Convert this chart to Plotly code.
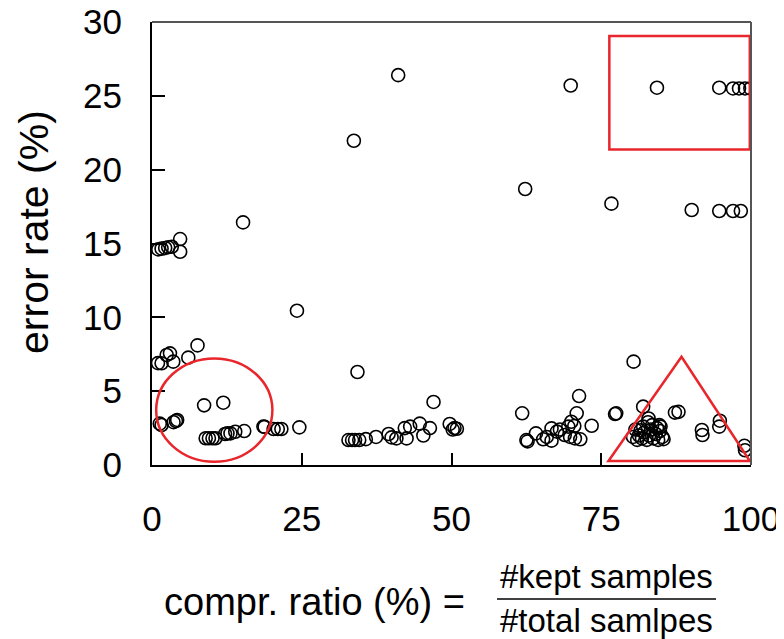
import plotly.graph_objects as go

# compression ratio (%) and error rate (%)
ratio = [
    41.1, 69.9, 84.3, 94.7, 97.0, 98.0, 99.0, 99.9,
    33.7, 62.3, 76.7, 90.1, 94.7, 97.0, 98.3,
    15.2,
    1.05, 1.6, 2.2, 2.7, 3.3, 4.7, 4.7,
    24.2,
    7.6, 1.0, 1.6, 2.45, 3.0, 3.55, 6.06,
    34.3, 8.7, 11.9, 47.0,
    1.3, 1.6, 3.6, 4.0, 4.2,
    8.96, 9.5, 10.1, 10.6,
    12.2, 12.6, 13.1, 13.9, 15.4, 18.6, 18.8,
    20.3, 21.0, 21.6, 24.6,
    32.8, 33.4, 33.9, 34.6, 35.7, 37.4, 39.5, 40.0, 40.8, 42.2, 42.5, 43.1,
    44.7, 45.3, 46.4, 49.7, 50.2, 50.5, 50.9,
    80.4, 61.8, 71.3, 70.9, 73.4, 70.0, 70.5,
    62.5, 62.7, 64.1, 65.3, 65.9, 66.7, 67.6, 68.1, 68.9, 69.8, 70.6, 71.5, 69.5, 66.7,
    77.3, 77.5, 82.0, 82.9, 87.3, 87.9, 84.7, 84.9,
    80.7, 81.3, 81.8, 82.2, 82.6, 83.0, 83.3, 83.7, 84.1, 84.5, 84.8, 85.2,
    81.0, 82.0, 83.5, 84.3, 80.3, 85.4, 82.8, 81.6,
    91.8, 91.9, 94.8, 94.7, 98.9, 99.0,
]
error = [
    26.4, 25.7, 25.55, 25.55, 25.5, 25.5, 25.5, 25.5,
    21.96, 18.69, 17.7, 17.27, 17.2, 17.2, 17.2,
    16.43,
    14.6, 14.65, 14.7, 14.75, 14.78, 15.3, 14.44,
    10.45,
    8.1, 6.9, 6.89, 7.45, 7.56, 7.0, 7.27,
    6.3, 4.04, 4.22, 4.27,
    2.8, 2.71, 2.9, 2.98, 3.05,
    1.81, 1.81, 1.81, 1.81,
    2.1, 2.14, 2.14, 2.25, 2.3, 2.6, 2.58,
    2.44, 2.44, 2.44, 2.55,
    1.69, 1.69, 1.69, 1.69, 1.75, 1.9, 2.1, 1.87, 1.8, 2.5, 1.8, 2.6,
    2.8, 2.0, 2.5, 2.78, 2.4, 2.5, 2.45,
    7.0, 3.5, 4.67, 3.5, 2.66, 2.93, 2.64,
    1.69, 1.6, 2.14, 1.74, 1.9, 2.48, 2.26, 2.4, 2.03, 1.9, 1.8, 1.74, 2.6, 1.65,
    3.45, 3.5, 3.95, 3.15, 3.55, 3.6, 2.7, 2.6,
    2.4, 2.0, 1.8, 2.2, 1.7, 2.0, 2.4, 1.8, 2.1, 1.7, 2.3, 1.9,
    1.7, 2.6, 2.7, 2.5, 1.9, 1.75, 2.9, 2.35,
    2.37, 2.03, 3.0, 2.6, 1.3, 1.0,
]

x_ticks = [0, 25, 50, 75, 100]
y_ticks = [0, 5, 10, 15, 20, 25, 30]

RED = "#e8262b"
FONT = "Liberation Sans, Arial, sans-serif"

fig = go.Figure()
fig.add_trace(go.Scatter(
    x=ratio, y=error, mode="markers",
    marker=dict(symbol="circle-open", size=13, color="black",
                line=dict(width=1.6, color="black")),
    showlegend=False, hoverinfo="x+y",
))

# red highlight shapes
fig.add_shape(type="rect", xref="x", yref="y", x0=76.35, x1=99.8, y0=21.37, y1=29.05,
              line=dict(color=RED, width=2.5))
fig.add_shape(type="circle", xref="x", yref="y", x0=0.7, x1=20.1, y0=0.22, y1=7.22,
              line=dict(color=RED, width=2.5))
fig.add_shape(type="path", xref="x", yref="y",
              path="M 76.2 0.27 L 88.4 7.33 L 99.8 0.27 Z",
              line=dict(color=RED, width=2.5))

# top and right frame (grey)
fig.add_shape(type="line", xref="paper", yref="paper", x0=0, x1=1, y0=1, y1=1,
              line=dict(color="#555555", width=2))
fig.add_shape(type="line", xref="paper", yref="paper", x0=1, x1=1, y0=0, y1=1,
              line=dict(color="#555555", width=2))

# fraction bar of the x title
fig.add_shape(type="line", xref="paper", yref="paper", x0=0.576, x1=0.9416,
              y0=-0.3025, y1=-0.3025, line=dict(color="black", width=1.5))

fig.add_annotation(text="compr. ratio (%) =", xref="paper", yref="paper",
                   x=0.0167, y=-0.309, xanchor="left", yanchor="middle",
                   showarrow=False, font=dict(size=38, color="black", family=FONT))
fig.add_annotation(text="#kept samples", xref="paper", yref="paper",
                   x=0.758, y=-0.2506, xanchor="center", yanchor="middle",
                   showarrow=False, font=dict(size=33, color="black", family=FONT))
fig.add_annotation(text="#total samlpes", xref="paper", yref="paper",
                   x=0.758, y=-0.350, xanchor="center", yanchor="middle",
                   showarrow=False, font=dict(size=33, color="black", family=FONT))
fig.add_annotation(text="error rate (%)", xref="paper", yref="paper",
                   x=-0.197, y=0.526, xanchor="center", yanchor="middle",
                   textangle=-90, showarrow=False,
                   font=dict(size=41, color="black", family=FONT))

# the page adds an 8px body margin, so the figure is 8px smaller than the window
fig.update_layout(
    width=776, height=631,
    margin=dict(l=144, r=33, t=14, b=174),
    paper_bgcolor="white", plot_bgcolor="white",
    font=dict(family=FONT, color="black"),
)
fig.update_xaxes(
    range=[0, 100], tickvals=x_ticks, ticktext=[str(v) for v in x_ticks],
    ticks="inside", ticklen=12, tickwidth=1.5, tickcolor="black",
    showline=True, linecolor="black", linewidth=2,
    showgrid=False, zeroline=False, automargin=False,
    ticklabeloverflow="allow",
    tickfont=dict(size=35, color="black", family=FONT),
    ticklabelstandoff=22,
)
fig.update_yaxes(
    range=[0, 30], tickvals=y_ticks, ticktext=[str(v) for v in y_ticks],
    ticks="inside", ticklen=13, tickwidth=1.5, tickcolor="black",
    showline=True, linecolor="black", linewidth=2,
    showgrid=False, zeroline=False, automargin=False,
    ticklabeloverflow="allow",
    tickfont=dict(size=35, color="black", family=FONT),
    ticklabelstandoff=21,
)

fig.write_html("out.html")
